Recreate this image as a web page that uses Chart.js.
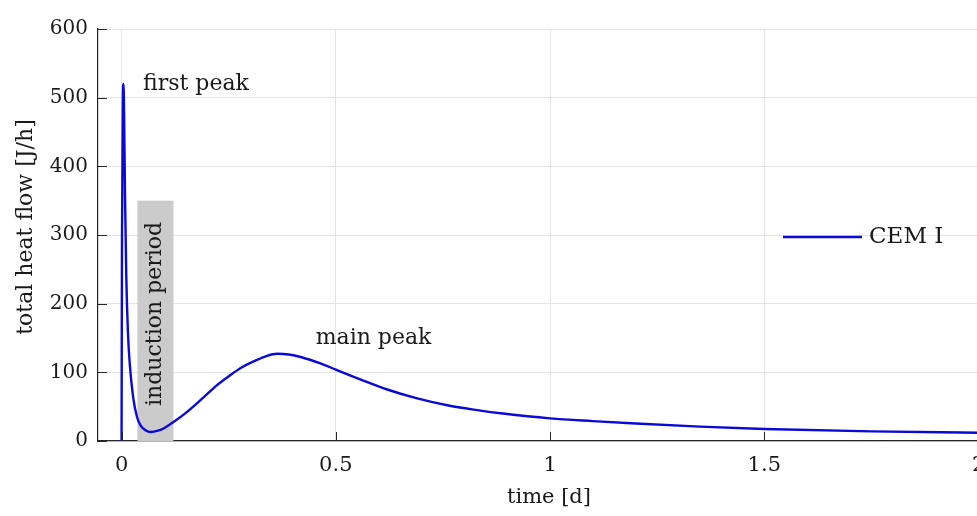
<!DOCTYPE html>
<html lang="en">
<head>
    <meta charset="UTF-8">
    <title>Heat flow CEM I</title>
    <script src="https://cdn.jsdelivr.net/npm/chart.js"></script>
    <style>
        body, html {
            margin: 0;
            padding: 0;
            overflow: hidden;
            background: #ffffff;
        }
        .wrap {
            width: 1010px;
            height: 516px;
        }
    </style>
</head>
<body>
    <div class="wrap">
        <canvas id="heatChart"></canvas>
    </div>

    <script>
    // time [d] and total heat flow [J/h]
    const timeDays = [0, 0.001, 0.003, 0.0045, 0.006, 0.008, 0.011, 0.0147, 0.019, 0.027, 0.036, 0.045, 0.055, 0.068, 0.085, 0.1, 0.122, 0.15, 0.192, 0.22, 0.254, 0.28, 0.308, 0.335, 0.363, 0.39, 0.42, 0.464, 0.5, 0.56, 0.62, 0.69, 0.76, 0.83, 0.89, 1.0, 1.1, 1.2, 1.35, 1.5, 1.75, 2.0, 2.06];
    const heatFlow = [0, 300, 500, 520, 470, 360, 240, 161, 113, 64, 35, 22, 16, 13, 15, 19, 28, 41, 64, 80, 96, 107, 116, 123, 127, 126, 122, 113, 104, 89, 75, 62, 52, 45, 40, 33, 29, 25.5, 21, 17.5, 14, 12, 11.5];
    const seriesLabel = 'CEM I';

    const xTicks = [0, 0.5, 1, 1.5, 2];
    const yTicks = [0, 100, 200, 300, 400, 500, 600];
    const yTitle = 'total heat flow [J/h]';

    // shaded induction period (days, J/h)
    const inductionStart = 0.037;
    const inductionEnd = 0.121;
    const inductionTop = 350;

    const notes = [
        { text: 'first peak', x: 0.05, y: 520, align: 'left', rotate: false },
        { text: 'main peak', x: 0.453, y: 150, align: 'left', rotate: false },
        { text: 'induction period', x: 0.079, y: 185, align: 'center', rotate: true }
    ];

    const serif = "'DejaVu Serif', 'Liberation Serif', serif";
    const ink = '#1a1a1a';
    const blue = '#0a0ad8';

    const points = timeDays.map((t, i) => ({ x: t, y: heatFlow[i] }));

    const extras = {
        id: 'extras',
        beforeDatasetsDraw(chart) {
            const ctx = chart.ctx;
            const x = chart.scales.x, y = chart.scales.y;
            const x0 = x.getPixelForValue(inductionStart);
            const x1 = x.getPixelForValue(inductionEnd);
            const y0 = y.getPixelForValue(inductionTop);
            const y1 = y.getPixelForValue(0);
            ctx.save();
            ctx.fillStyle = '#cbcbcb';
            ctx.fillRect(x0, y0, x1 - x0, y1 - y0);
            ctx.restore();
        },
        afterDatasetsDraw(chart) {
            const ctx = chart.ctx;
            const area = chart.chartArea;
            const x = chart.scales.x, y = chart.scales.y;
            ctx.save();

            // inward ticks like matlab
            ctx.strokeStyle = '#262626';
            ctx.lineWidth = 1;
            ctx.beginPath();
            yTicks.forEach(v => {
                const py = Math.round(y.getPixelForValue(v)) + 0.5;
                ctx.moveTo(area.left, py);
                ctx.lineTo(area.left + 9, py);
            });
            xTicks.forEach(v => {
                const px = Math.round(x.getPixelForValue(v)) + 0.5;
                ctx.moveTo(px, area.bottom);
                ctx.lineTo(px, area.bottom - 9);
            });
            ctx.stroke();

            // text notes
            ctx.fillStyle = ink;
            ctx.font = '22px ' + serif;
            ctx.textBaseline = 'middle';
            notes.forEach(n => {
                const px = x.getPixelForValue(n.x);
                const py = y.getPixelForValue(n.y);
                ctx.save();
                ctx.translate(px, py);
                if (n.rotate) ctx.rotate(-Math.PI / 2);
                ctx.textAlign = n.align;
                ctx.fillText(n.text, 0, 0);
                ctx.restore();
            });

            // y title, a bit above the axis centre as in the figure
            ctx.save();
            ctx.translate(26, (area.top + area.bottom) / 2 - 8);
            ctx.rotate(-Math.PI / 2);
            ctx.textAlign = 'center';
            ctx.fillText(yTitle, 0, 0);
            ctx.restore();

            // legend inside the axes, no box
            const ds = chart.data.datasets[0];
            const ly = area.top + 208;
            const lx = area.right - 217;
            ctx.strokeStyle = ds.borderColor;
            ctx.lineWidth = 2.5;
            ctx.beginPath();
            ctx.moveTo(lx, ly);
            ctx.lineTo(lx + 79, ly);
            ctx.stroke();
            ctx.font = '23px ' + serif;
            ctx.textAlign = 'left';
            ctx.fillText(ds.label, lx + 86, ly);

            ctx.restore();
        }
    };

    new Chart(document.getElementById('heatChart').getContext('2d'), {
        type: 'line',
        data: {
            datasets: [{
                label: seriesLabel,
                data: points,
                borderColor: blue,
                borderWidth: 2.4,
                pointRadius: 0,
                fill: false,
                cubicInterpolationMode: 'monotone'
            }]
        },
        options: {
            responsive: true,
            maintainAspectRatio: false,
            animation: false,
            layout: { padding: { top: 29, right: 10, left: 0, bottom: 0 } },
            plugins: {
                legend: { display: false },
                tooltip: { enabled: false }
            },
            scales: {
                x: {
                    type: 'linear',
                    min: -0.055,
                    max: 2.05,
                    afterFit(scale) { scale.height = 75; },
                    afterBuildTicks(scale) { scale.ticks = xTicks.map(v => ({ value: v })); },
                    grid: { color: '#e4e4e4', drawTicks: false },
                    border: { color: '#262626', width: 1.2 },
                    ticks: {
                        padding: 12,
                        color: ink,
                        font: { family: serif, size: 21 },
                        callback: v => String(v)
                    },
                    title: {
                        display: true,
                        text: 'time [d]',
                        color: ink,
                        font: { family: serif, size: 21 },
                        padding: { top: 0, bottom: 6 }
                    }
                },
                y: {
                    min: 0,
                    max: 600,
                    afterFit(scale) { scale.width = 98; },
                    afterBuildTicks(scale) { scale.ticks = yTicks.map(v => ({ value: v })); },
                    grid: { color: '#e4e4e4', drawTicks: false },
                    border: { color: '#262626', width: 1.2 },
                    ticks: {
                        padding: 10,
                        color: ink,
                        font: { family: serif, size: 20 },
                        callback: v => String(v)
                    }
                }
            }
        },
        plugins: [extras]
    });
    </script>
</body>
</html>
